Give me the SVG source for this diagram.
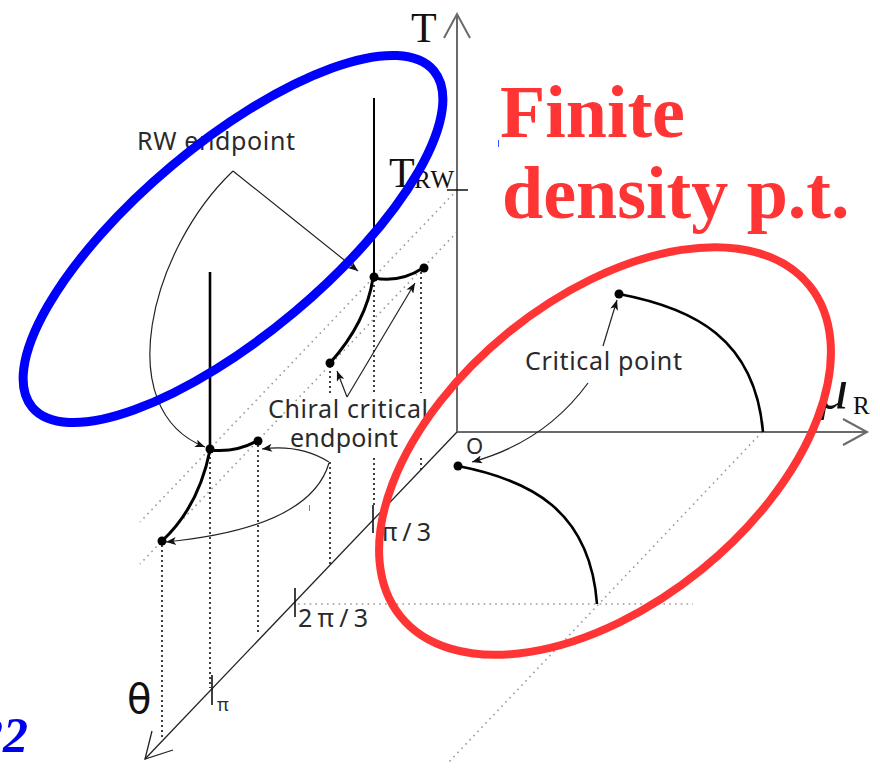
<svg xmlns="http://www.w3.org/2000/svg" width="880" height="771" viewBox="0 0 880 771">
<defs>
<marker id="ah" viewBox="0 0 10 8" refX="10" refY="4" markerWidth="11" markerHeight="8" markerUnits="userSpaceOnUse" orient="auto"><path d="M0,0 L10,4 L0,8 L2.5,4 z" fill="#111"/></marker>
<style>
.axis{stroke:#6a6a6a;stroke-width:2;fill:none}
.thin{stroke:#222;stroke-width:1.3;fill:none}
.gdot{stroke:#9a9a9a;stroke-width:1.6;stroke-dasharray:1.6 4.2;fill:none}
.bdot{stroke:#111;stroke-width:1.6;stroke-dasharray:2 3;fill:none}
.thick{stroke:#000;stroke-width:3;fill:none;stroke-linecap:round}
.arr{stroke:#222;stroke-width:1.2;fill:none;marker-end:url(#ah)}
.lbl{font-family:'Noto Sans','Open Sans',sans-serif;fill:#2a2a2a}
.ser{font-family:'Liberation Serif','Times New Roman',serif;fill:#111}
.big{font-family:'Liberation Serif','Times New Roman',serif;font-weight:bold;fill:#ff3535;font-size:74px}
</style>
</defs>
<rect width="880" height="771" fill="#fff"/>

<g id="guides">
<path class="gdot" d="M457,190 L140,522"/>
<path class="gdot" d="M457,232 L140,564"/>
<path class="gdot" d="M762,432 L448,763"/>
<path class="gdot" d="M298,604 L693,604"/>
<path class="bdot" d="M330,366 V393 M330,462 V565"/>
<path class="bdot" d="M374,280 V393 M374,458 V505"/>
<path class="bdot" d="M421,272 V393 M421,458 V470"/>
<path class="bdot" d="M162,545 V739"/>
<path class="bdot" d="M210,452 V688"/>
<path class="bdot" d="M258,445 V635"/>
</g>

<g id="axes">
<path class="axis" d="M457,432 V14"/>
<path class="axis" d="M444,38 L457,14 L470,38"/>
<path class="axis" d="M457,432 H867"/>
<path class="axis" d="M843,419 L867,432 L843,445"/>
<path class="thin" d="M457,432 L145,759"/>
<path class="thin" d="M152,731 L145,759 L173,750"/>
<path stroke="#111" stroke-width="1.6" d="M373,505 V533 M295,588 V617 M212,675 V705 M447,190 H468"/>
</g>

<g id="rw-upper">
<path stroke="#000" stroke-width="2" d="M374,98 V277"/>
<path class="thick" d="M374,278 Q400,283 423,268"/>
<path class="thick" d="M373,278 C369,305 355,335 330,363"/>
<circle cx="374" cy="277" r="4.5"/>
<circle cx="424" cy="268" r="4.5"/>
<circle cx="330" cy="363" r="4.5"/>
</g>

<g id="rw-lower">
<path stroke="#000" stroke-width="2.6" d="M210,272 V449"/>
<path class="thick" d="M210,450 Q235,453 257,441"/>
<path class="thick" d="M210,450 C204,480 190,515 162,541"/>
<circle cx="210" cy="449" r="4.5"/>
<circle cx="258" cy="441" r="4.5"/>
<circle cx="162" cy="541" r="4.5"/>
</g>

<g id="critical-curves">
<path stroke="#000" stroke-width="2.6" fill="none" d="M619,294 C693,308 755,338 763,432"/>
<path stroke="#000" stroke-width="2.6" fill="none" d="M458,466 C530,480 590,510 597,604"/>
<circle cx="619" cy="294" r="4.5"/>
<circle cx="458" cy="466" r="4.5"/>
</g>

<g id="connectors">
<path class="arr" d="M233,171 L358,271"/>
<path class="arr" d="M233,171 C150,250 110,410 205,447"/>
<path class="arr" d="M347,397 L415,283"/>
<path class="arr" d="M347,397 L337,371"/>
<path class="arr" d="M329,462 Q300,444 262,449"/>
<path class="arr" d="M329,463 Q310,528 166,542"/>
<path class="arr" d="M603,346 L617,300"/>
<path class="arr" d="M588,383 Q545,442 472,462"/>
</g>

<g id="labels">
<text class="lbl" x="137" y="150" font-size="25" textLength="158">RW endpoint</text>
<text class="lbl" x="268" y="418" font-size="25" textLength="160">Chiral critical</text>
<text class="lbl" x="290" y="447" font-size="25" textLength="108">endpoint</text>
<text class="lbl" x="525" y="370" font-size="25" textLength="157">Critical point</text>
<text class="lbl" x="466" y="454" font-size="22">O</text>
<text class="lbl" x="381" y="541" font-size="25" textLength="50">π/3</text>
<text class="lbl" x="298" y="627" font-size="25" textLength="70">2π/3</text>
<text class="lbl" x="217" y="711" font-size="18">π</text>
<text x="127" y="713" font-family="'DejaVu Sans',sans-serif" font-size="40" fill="#111">θ</text>
<text class="ser" x="411" y="42" font-size="42">T</text>
<text class="ser" x="389" y="187" font-size="42">T</text>
<text class="ser" x="414" y="188" font-size="25" textLength="40">RW</text>
<text class="ser" x="819" y="408" font-size="58" font-style="italic">μ</text>
<text class="ser" x="853" y="414" font-size="25">R</text>
</g>

<g id="highlights">
<ellipse cx="233" cy="239" rx="262" ry="95.5" transform="rotate(-40 233 239)" fill="none" stroke="#0000ff" stroke-width="9"/>
<ellipse cx="605" cy="451" rx="263" ry="153" transform="rotate(-39 605 451)" fill="none" stroke="#ff3535" stroke-width="8"/>
<text class="big" x="500" y="137">Finite</text>
<text class="big" x="502" y="218">density p.t.</text>
<path stroke="#3355ff" stroke-width="1" d="M498.5,140 V147"/>
<path stroke="#ff5050" stroke-width="1" d="M309.5,505 V511"/>
<text x="28" y="752" font-family="'Liberation Serif','Times New Roman',serif" font-weight="bold" font-style="italic" font-size="50" fill="#0000ee" text-anchor="end">22</text>
</g>
</svg>
